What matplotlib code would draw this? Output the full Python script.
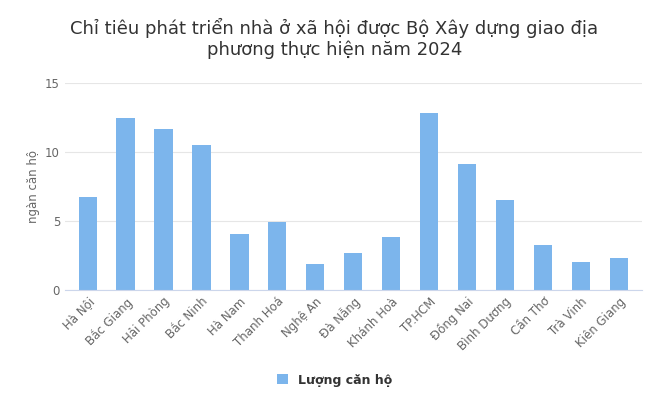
import matplotlib
matplotlib.use("Agg")
import matplotlib.pyplot as plt

categories = ["Hà Nội","Bắc Giang","Hải Phòng","Bắc Ninh","Hà Nam","Thanh Hoá","Nghệ An","Đà Nẵng",
              "Khánh Hoà","TP.HCM","Đồng Nai","Bình Dương","Cần Thơ","Trà Vinh","Kiên Giang"]
values = [6.7,12.45,11.65,10.5,4.08,4.95,1.9,2.7,3.86,12.8,9.1,6.55,3.28,2.04,2.33]
yticks = [0,5,10,15]

plt.rcParams['font.family'] = ['DejaVu Sans']
fig = plt.figure(figsize=(6.69,4.03), dpi=100)
ax = fig.add_axes([0.097, 0.28, 0.862, 0.515])
x = range(len(categories))
ax.bar(x, values, width=0.48, color='#7cb5ec', label='Lượng căn hộ', zorder=2)
ax.set_xlim(-0.6, len(categories)-0.4)
ax.set_ylim(0, 15)
ax.set_yticks(yticks)
ax.grid(axis='y', color='#e6e6e6', zorder=0)
for s in ['top','right','left']:
    ax.spines[s].set_visible(False)
ax.spines['bottom'].set_color('#ccd6eb')
ax.tick_params(axis='y', length=0, labelsize=8.5, labelcolor='#666666')
ax.tick_params(axis='x', length=0, labelsize=8.5, labelcolor='#666666')
ax.set_xticks(list(x))
ax.set_xticklabels(categories, rotation=-45, ha='left', rotation_mode='anchor')
for lab in ax.get_xticklabels():
    lab.set_rotation(45); lab.set_ha('right')
ax.set_ylabel('ngàn căn hộ', fontsize=8.5, color='#666666')
fig.text(0.5, 0.905, 'Chỉ tiêu phát triển nhà ở xã hội được Bộ Xây dựng giao địa\nphương thực hiện năm 2024',
         ha='center', va='center', fontsize=13, color='#333333', linespacing=1.15)
fig.legend(*ax.get_legend_handles_labels(), loc='center', bbox_to_anchor=(0.5, 0.057), frameon=False,
           fontsize=9, handlelength=0.9, handleheight=0.9, markerscale=1)
leg = fig.legends[0]
for t in leg.get_texts(): t.set_color('#333333'); t.set_fontweight('bold')
fig.savefig('out.png', dpi=100)
